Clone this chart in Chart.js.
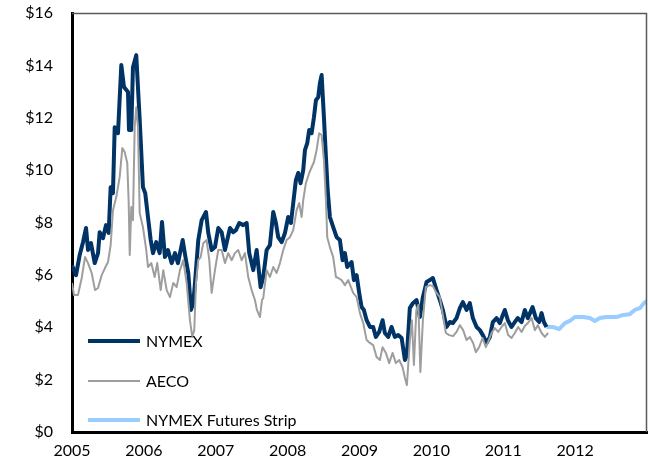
<!DOCTYPE html>
<html>
<head>
<meta charset="utf-8">
<script src="https://cdn.jsdelivr.net/npm/chart.js@4.4.0/dist/chart.umd.min.js"></script>
<style>
html,body{margin:0;padding:0;background:#fff;}
#wrap{width:648px;height:470px;}
</style>
</head>
<body>
<div id="wrap"><canvas id="c" width="648" height="470"></canvas></div>
<script>
// ---- Data (decimal years, $/MMBtu) ----
const yTickLabels = ["$0","$2","$4","$6","$8","$10","$12","$14","$16"];
const xTickYears = [2005,2006,2007,2008,2009,2010,2011,2012];
const seriesNames = ["NYMEX","AECO","NYMEX Futures Strip"];

const nymexT = [2005.000,2005.056,2005.107,2005.153,2005.195,2005.223,2005.264,2005.316,2005.362,2005.385,2005.431,2005.473,2005.510,2005.538,2005.570,2005.594,2005.640,2005.686,2005.723,2005.779,2005.793,2005.825,2005.848,2005.894,2005.942,2005.987,2006.019,2006.057,2006.095,2006.127,2006.172,2006.220,2006.252,2006.293,2006.335,2006.387,2006.433,2006.474,2006.540,2006.586,2006.618,2006.655,2006.687,2006.711,2006.757,2006.804,2006.864,2006.896,2006.943,2006.989,2007.035,2007.082,2007.128,2007.198,2007.243,2007.281,2007.327,2007.382,2007.430,2007.466,2007.522,2007.569,2007.624,2007.661,2007.708,2007.754,2007.800,2007.837,2007.869,2007.917,2007.963,2008.008,2008.046,2008.078,2008.115,2008.147,2008.181,2008.217,2008.241,2008.273,2008.300,2008.334,2008.366,2008.394,2008.426,2008.449,2008.473,2008.505,2008.533,2008.557,2008.588,2008.634,2008.682,2008.727,2008.765,2008.797,2008.829,2008.890,2008.922,2008.960,2008.996,2009.029,2009.061,2009.099,2009.145,2009.190,2009.228,2009.274,2009.321,2009.353,2009.400,2009.446,2009.492,2009.538,2009.586,2009.632,2009.660,2009.700,2009.743,2009.794,2009.840,2009.882,2009.933,2009.979,2010.021,2010.072,2010.118,2010.160,2010.211,2010.257,2010.299,2010.350,2010.396,2010.438,2010.490,2010.535,2010.577,2010.629,2010.675,2010.716,2010.768,2010.814,2010.855,2010.907,2010.953,2010.994,2011.022,2011.064,2011.115,2011.161,2011.203,2011.255,2011.300,2011.342,2011.408,2011.453,2011.500,2011.533,2011.565,2011.602];
const nymexV = [6.37,5.99,6.76,7.25,7.79,6.95,7.21,6.45,6.83,7.63,7.40,7.90,7.60,9.35,9.12,11.64,11.41,14.01,13.17,12.98,11.53,11.53,13.93,14.39,11.91,9.35,9.12,8.21,7.33,6.83,7.25,6.83,8.02,6.68,6.95,6.45,6.83,6.45,7.33,6.56,6.07,4.66,4.92,5.69,7.33,8.09,8.40,7.60,6.95,7.06,7.79,7.63,6.95,7.79,7.63,7.71,7.98,7.90,7.98,6.83,6.18,6.95,5.53,5.92,6.95,7.14,8.40,7.98,7.44,7.25,7.60,8.21,7.98,8.74,9.62,9.89,9.50,10.00,10.76,11.03,11.53,11.41,12.02,12.67,12.79,13.32,13.63,12.02,10.50,9.24,8.21,7.82,7.44,7.33,6.56,6.83,6.30,6.49,5.80,5.99,5.31,4.77,4.66,4.27,4.01,4.01,3.63,3.82,4.27,3.78,3.63,4.01,3.63,3.70,3.59,2.75,2.94,4.73,4.92,5.04,4.39,5.15,5.73,5.80,5.88,5.42,5.04,4.66,4.01,4.20,4.16,4.35,4.73,4.96,4.66,4.92,4.35,4.01,3.89,3.70,3.40,3.63,4.20,4.35,4.16,4.47,4.66,4.27,4.01,4.20,4.35,4.20,4.66,4.35,4.77,4.35,4.20,4.54,4.20,4.01];

const aecoT = [2005.000,2005.028,2005.083,2005.135,2005.181,2005.223,2005.274,2005.320,2005.362,2005.413,2005.459,2005.501,2005.538,2005.570,2005.616,2005.663,2005.700,2005.733,2005.769,2005.789,2005.803,2005.825,2005.848,2005.872,2005.894,2005.918,2005.942,2005.987,2006.033,2006.057,2006.103,2006.150,2006.186,2006.234,2006.270,2006.317,2006.363,2006.409,2006.456,2006.502,2006.548,2006.595,2006.641,2006.673,2006.701,2006.725,2006.757,2006.790,2006.826,2006.873,2006.910,2006.943,2006.989,2007.035,2007.082,2007.128,2007.174,2007.221,2007.267,2007.313,2007.360,2007.406,2007.452,2007.499,2007.545,2007.573,2007.615,2007.643,2007.661,2007.708,2007.754,2007.800,2007.847,2007.893,2007.939,2007.986,2008.032,2008.078,2008.125,2008.161,2008.195,2008.217,2008.254,2008.300,2008.334,2008.366,2008.403,2008.439,2008.473,2008.505,2008.533,2008.551,2008.588,2008.634,2008.672,2008.704,2008.751,2008.797,2008.843,2008.912,2008.960,2009.006,2009.052,2009.099,2009.145,2009.190,2009.238,2009.284,2009.321,2009.367,2009.413,2009.460,2009.506,2009.552,2009.599,2009.632,2009.659,2009.701,2009.729,2009.757,2009.791,2009.819,2009.847,2009.882,2009.923,2009.979,2010.021,2010.063,2010.118,2010.164,2010.202,2010.248,2010.303,2010.350,2010.396,2010.442,2010.490,2010.535,2010.581,2010.619,2010.665,2010.712,2010.758,2010.790,2010.837,2010.883,2010.929,2010.976,2011.022,2011.068,2011.115,2011.161,2011.207,2011.255,2011.300,2011.342,2011.394,2011.440,2011.481,2011.533,2011.579,2011.625];
const aecoV = [5.69,5.23,5.23,5.88,6.68,6.45,6.07,5.42,5.50,5.99,6.26,6.49,7.14,8.47,8.97,9.73,10.84,10.69,10.27,8.74,6.76,8.59,8.09,11.64,12.40,11.64,8.36,7.82,6.95,6.30,6.45,5.92,6.45,5.42,6.18,5.42,5.15,5.69,5.53,6.18,6.56,5.69,4.27,3.63,3.89,5.69,6.56,6.68,7.21,7.33,6.56,5.31,6.18,6.95,6.95,6.45,6.83,6.56,6.83,6.95,6.56,6.83,5.92,5.42,5.04,4.66,4.39,5.04,5.11,6.18,5.92,6.30,6.07,6.45,6.95,7.33,7.44,7.71,8.47,8.74,8.21,8.85,9.50,9.89,10.11,10.31,10.76,11.41,11.34,10.38,8.85,7.44,7.06,6.68,5.92,5.88,5.80,5.61,5.80,5.31,5.15,4.54,4.16,3.51,3.40,3.32,2.86,2.75,3.24,3.02,2.63,3.02,2.63,2.75,2.48,2.06,1.79,3.51,4.27,2.56,4.66,4.85,2.29,4.27,5.53,5.61,5.57,5.34,5.15,4.39,3.78,3.70,3.66,3.82,4.08,3.89,3.51,3.63,3.40,3.05,3.24,3.59,3.24,3.44,3.78,3.97,3.82,4.01,4.16,3.70,3.59,3.78,4.01,3.82,4.05,4.16,4.35,3.89,4.08,3.78,3.63,3.78];

const stripT = [2011.602,2011.694,2011.777,2011.857,2011.926,2011.996,2012.111,2012.205,2012.274,2012.344,2012.437,2012.576,2012.668,2012.760,2012.830,2012.900,2012.956,2012.997];
const stripV = [4.01,4.01,3.93,4.16,4.24,4.39,4.39,4.35,4.24,4.35,4.39,4.39,4.47,4.50,4.66,4.73,4.92,5.00];

const toXY = (t, v) => t.map((x, i) => ({x: x, y: v[i]}));

const FONT = 'Lato, "Open Sans", sans-serif';
const NAVY = '#003366', GREY = '#9E9E9E', LIGHT = '#99CCFF';

const legendPlugin = {
  id: 'insideLegend',
  afterDatasetsDraw(chart) {
    const ctx = chart.ctx, a = chart.chartArea;
    ctx.save();
    ctx.strokeStyle = '#5a5a5a';
    ctx.lineWidth = 1.5;
    ctx.beginPath();
    ctx.moveTo(a.left, a.top + 0.5);
    ctx.lineTo(a.right - 0.5, a.top + 0.5);
    ctx.lineTo(a.right - 0.5, a.bottom);
    ctx.stroke();
    const items = [
      {name: seriesNames[0], color: NAVY, w: 4, dy: 91},
      {name: seriesNames[1], color: GREY, w: 2, dy: 51},
      {name: seriesNames[2], color: LIGHT, w: 4, dy: 12}
    ];
    ctx.font = '16px ' + FONT;
    ctx.textBaseline = 'middle';
    ctx.fillStyle = '#000';
    items.forEach(it => {
      const y = a.bottom - it.dy;
      ctx.strokeStyle = it.color;
      ctx.lineWidth = it.w;
      ctx.lineCap = 'butt';
      ctx.beginPath();
      ctx.moveTo(a.left + 16, y);
      ctx.lineTo(a.left + 68, y);
      ctx.stroke();
      ctx.fillText(it.name, a.left + 74, y + 1);
    });
    ctx.restore();
  }
};

new Chart(document.getElementById('c'), {
  type: 'line',
  data: {
    datasets: [
      {label: seriesNames[1], data: toXY(aecoT, aecoV), borderColor: GREY, borderWidth: 2, order: 0},
      {label: seriesNames[0], data: toXY(nymexT, nymexV), borderColor: NAVY, borderWidth: 4, order: 1},
      {label: seriesNames[2], data: toXY(stripT, stripV), borderColor: LIGHT, borderWidth: 4, order: 2}
    ]
  },
  options: {
    responsive: false,
    animation: false,
    events: [],
    elements: {point: {radius: 0}, line: {tension: 0, borderJoinStyle: 'round', borderCapStyle: 'butt'}},
    layout: {padding: {left: 0, right: 1, top: 13, bottom: 0}},
    plugins: {legend: {display: false}, tooltip: {enabled: false}},
    scales: {
      x: {
        type: 'linear', min: 2005, max: 2013,
        afterFit(s) { s.height = 38; s.paddingLeft = 0; s.paddingRight = 0; },
        afterBuildTicks(s) { s.ticks = xTickYears.map(v => ({value: v})); },
        ticks: {
          padding: 9, color: '#000', font: {family: FONT, size: 16},
          maxRotation: 0, autoSkip: false,
          callback: v => String(v)
        },
        grid: {display: false, drawTicks: false},
        border: {display: true, color: '#000', width: 3}
      },
      y: {
        min: 0, max: 16,
        afterFit(s) { s.width = 72; s.paddingTop = 0; s.paddingBottom = 0; },
        afterBuildTicks(s) { s.ticks = yTickLabels.map((l, i) => ({value: i * 2})); },
        ticks: {
          padding: 19, color: '#000', font: {family: FONT, size: 16},
          callback: (v) => yTickLabels[Math.round(v / 2)]
        },
        grid: {display: false, drawTicks: false},
        border: {display: true, color: '#000', width: 3}
      }
    }
  },
  plugins: [legendPlugin]
});
</script>
</body>
</html>
